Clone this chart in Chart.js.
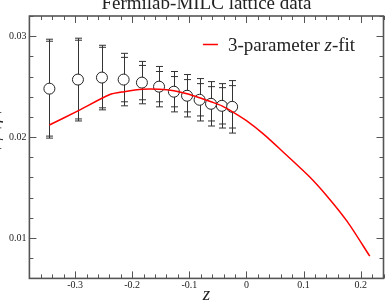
<!DOCTYPE html>
<html lang="en">
<head>
    <meta charset="UTF-8">
    <title>Fermilab-MILC lattice data</title>
    <script src="https://cdn.jsdelivr.net/npm/chart.js"></script>
    <style>
        html, body { margin: 0; padding: 0; background: #fff; }
        canvas { display: block; }
    </style>
</head>
<body>
    <canvas id="zfitChart" width="390" height="303"></canvas>
    <script>
        // lattice data points (z, value, inner and outer error)
        const zData = [-0.345, -0.295, -0.253, -0.215, -0.183, -0.153, -0.127, -0.104, -0.082, -0.062, -0.043, -0.025];
        const fData = [0.0248, 0.0257, 0.0259, 0.0257, 0.0254, 0.0250, 0.0245, 0.0241, 0.0237, 0.0233, 0.0231, 0.0230];
        const errStat = [0.0047, 0.0039, 0.0030, 0.0022, 0.0017, 0.0015, 0.0015, 0.0016, 0.0016, 0.0017, 0.0018, 0.0021];
        const errTotal = [0.0049, 0.0041, 0.0032, 0.0026, 0.0021, 0.0020, 0.0020, 0.0021, 0.0021, 0.0022, 0.0022, 0.0026];

        // 3-parameter z-fit curve
        const fitZ = [-0.345, -0.295, -0.240, -0.214, -0.182, -0.153, -0.127, -0.104, -0.082, -0.062, -0.043, -0.025, 0.0, 0.030, 0.061, 0.110, 0.142, 0.177, 0.216];
        const fitF = [0.0212, 0.0226, 0.0242, 0.0245, 0.02475, 0.02475, 0.0246, 0.0243, 0.0239, 0.0235, 0.0231, 0.02253, 0.02163, 0.0203, 0.0187, 0.0161, 0.0141, 0.0116, 0.0082];

        const xLabels = ['-0.3', '-0.2', '-0.1', '0', '0.1', '0.2'];
        const yLabels = ['0.01', '0.02', '0.03'];

        const serif = "'Liberation Serif', 'DejaVu Serif', serif";
        const axisColor = '#555';

        function fmt(v, digits) {
            const r = Math.round(v * Math.pow(10, digits)) / Math.pow(10, digits);
            return Math.abs(v - r) < 1e-9 ? String(r) : '';
        }

        // error bars, frame, inward ticks, title, legend and y label
        const decor = {
            id: 'decor',
            beforeDatasetsDraw(chart) {
                const { ctx, scales: { x, y } } = chart;
                ctx.save();
                ctx.strokeStyle = '#333';
                ctx.lineWidth = 1;
                [errTotal, errStat].forEach(err => {
                    zData.forEach((z, i) => {
                        const px = Math.round(x.getPixelForValue(z)) + 0.5;
                        const top = y.getPixelForValue(fData[i] + err[i]);
                        const bot = y.getPixelForValue(fData[i] - err[i]);
                        ctx.beginPath();
                        ctx.moveTo(px, top);
                        ctx.lineTo(px, bot);
                        ctx.moveTo(px - 3.5, top);
                        ctx.lineTo(px + 3.5, top);
                        ctx.moveTo(px - 3.5, bot);
                        ctx.lineTo(px + 3.5, bot);
                        ctx.stroke();
                    });
                });
                ctx.restore();
            },
            afterDraw(chart) {
                const { ctx, chartArea: a, scales: { x, y } } = chart;
                ctx.save();
                ctx.strokeStyle = axisColor;
                ctx.lineWidth = 1;
                x.ticks.forEach(t => {
                    const px = Math.round(x.getPixelForValue(t.value)) + 0.5;
                    const len = t.label ? 7 : 4;
                    ctx.beginPath();
                    ctx.moveTo(px, a.bottom);
                    ctx.lineTo(px, a.bottom - len);
                    ctx.moveTo(px, a.top);
                    ctx.lineTo(px, a.top + len);
                    ctx.stroke();
                });
                y.ticks.forEach(t => {
                    const py = Math.round(y.getPixelForValue(t.value)) + 0.5;
                    const len = t.label ? 7 : 4;
                    ctx.beginPath();
                    ctx.moveTo(a.left, py);
                    ctx.lineTo(a.left + len, py);
                    ctx.moveTo(a.right, py);
                    ctx.lineTo(a.right - len, py);
                    ctx.stroke();
                });
                ctx.lineWidth = 1.6;
                ctx.strokeRect(a.left, a.top, a.right - a.left, a.bottom - a.top);

                // title, mostly cut off at the top
                ctx.fillStyle = '#222';
                ctx.font = '19px ' + serif;
                ctx.textAlign = 'center';
                ctx.textBaseline = 'alphabetic';
                ctx.fillText('Fermilab-MILC lattice data', (a.left + a.right) / 2, 8.5);

                // legend
                ctx.strokeStyle = '#ff0000';
                ctx.lineWidth = 1.5;
                ctx.beginPath();
                ctx.moveTo(a.left + 173.5, 44.5);
                ctx.lineTo(a.left + 188.5, 44.5);
                ctx.stroke();
                ctx.textAlign = 'left';
                let tx = a.left + 198.6;
                const parts = [['3-parameter ', ''], ['z', 'italic '], ['-fit', '']];
                parts.forEach(([s, style]) => {
                    ctx.font = style + '19px ' + serif;
                    ctx.fillText(s, tx, 50.5);
                    tx += ctx.measureText(s).width;
                });

                // y axis label, cut off at the left edge
                ctx.translate(-1, (a.top + a.bottom) / 2 - 8);
                ctx.rotate(-Math.PI / 2);
                let ly = -26;
                const yl = [['P', 19, 0], ['+', 12, 4], ['\u03c6', 19, 0], ['+', 12, 4], ['f', 19, 0], ['+', 12, 4]];
                yl.forEach(([s, size, dy]) => {
                    ctx.font = 'italic ' + size + 'px ' + serif;
                    ctx.fillText(s, ly, dy);
                    ly += ctx.measureText(s).width + 1;
                });
                ctx.restore();
            }
        };

        const ctx = document.getElementById('zfitChart').getContext('2d');
        new Chart(ctx, {
            type: 'scatter',
            data: {
                datasets: [{
                    label: '3-parameter z-fit',
                    data: fitZ.map((z, i) => ({ x: z, y: fitF[i] })),
                    showLine: true,
                    borderColor: '#ff0000',
                    borderWidth: 1.5,
                    pointRadius: 0,
                    tension: 0.25,
                    order: 0
                }, {
                    label: 'Fermilab-MILC lattice data',
                    data: zData.map((z, i) => ({ x: z, y: fData[i] })),
                    pointRadius: 5.5,
                    borderColor: '#222',
                    backgroundColor: '#fff',
                    borderWidth: 1,
                    order: 1
                }]
            },
            options: {
                responsive: false,
                animation: false,
                devicePixelRatio: 1,
                layout: { padding: { top: 16, right: 3.5, left: 0, bottom: 0 } },
                plugins: {
                    legend: { display: false },
                    tooltip: { enabled: false }
                },
                scales: {
                    x: {
                        type: 'linear',
                        min: -0.38,
                        max: 0.24,
                        grid: { display: false, drawTicks: false },
                        border: { display: false },
                        ticks: {
                            stepSize: 0.02,
                            maxTicksLimit: 100,
                            autoSkip: false,
                            maxRotation: 0,
                            padding: 1,
                            color: '#222',
                            font: { family: serif, size: 10 },
                            callback: v => xLabels.includes(fmt(v, 1)) ? fmt(v, 1) : ''
                        },
                        title: {
                            display: true,
                            text: 'z',
                            color: '#222',
                            padding: 0,
                            font: { family: serif, size: 19, style: 'italic', lineHeight: 0.8 }
                        },
                        afterFit: s => { s.height = 24.6; }
                    },
                    y: {
                        type: 'linear',
                        min: 0.006,
                        max: 0.032,
                        grid: { display: false, drawTicks: false },
                        border: { display: false },
                        ticks: {
                            stepSize: 0.002,
                            maxTicksLimit: 100,
                            autoSkip: false,
                            padding: 3,
                            color: '#222',
                            font: { family: serif, size: 10 },
                            callback: v => yLabels.includes(fmt(v, 2)) ? fmt(v, 2) : ''
                        },
                        afterFit: s => { s.width = 29.4; }
                    }
                }
            },
            plugins: [decor]
        });
    </script>
</body>
</html>
